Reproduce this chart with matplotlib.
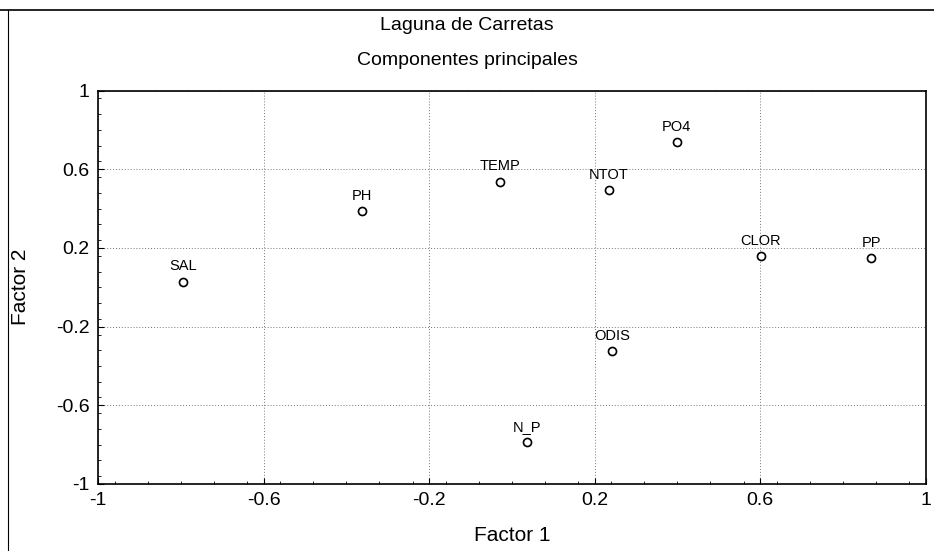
import matplotlib
matplotlib.use("Agg")
import matplotlib.pyplot as plt
import matplotlib.ticker as mticker
from matplotlib.lines import Line2D

plt.rcParams["font.family"] = ["Liberation Sans", "DejaVu Sans"]

variables = ["SAL", "PH", "TEMP", "NTOT", "PO4", "CLOR", "PP", "ODIS", "N_P"]
factor1 = [-0.794, -0.363, -0.028, 0.234, 0.398, 0.602, 0.869, 0.242, 0.036]
factor2 = [0.029, 0.388, 0.537, 0.495, 0.737, 0.160, 0.148, -0.325, -0.789]
ticks = [-1, -0.6, -0.2, 0.2, 0.6, 1]
tick_labels = ["-1", "-0.6", "-0.2", "0.2", "0.6", "1"]


def main() -> None:
    fig = plt.figure(figsize=(9.34, 5.51), dpi=100)
    ax = fig.add_axes([0.105, 0.1216, 0.886, 0.714])

    ax.plot(factor1, factor2, linestyle="none", marker="o", markersize=5.8,
            markerfacecolor="white", markeredgecolor="black", markeredgewidth=1.2)
    for name, x, y in zip(variables, factor1, factor2):
        ax.annotate(name, (x, y), xytext=(0, 11), textcoords="offset points",
                    ha="center", va="center", fontsize=10.5)

    ax.set_xlim(-1, 1)
    ax.set_ylim(-1, 1)
    ax.set_xticks(ticks)
    ax.set_xticklabels(tick_labels)
    ax.set_yticks(ticks)
    ax.set_yticklabels(tick_labels)
    ax.xaxis.set_minor_locator(mticker.MultipleLocator(0.08))
    ax.yaxis.set_minor_locator(mticker.MultipleLocator(0.08))
    ax.tick_params(axis="both", which="major", direction="in", length=4, labelsize=14, pad=6)
    ax.tick_params(axis="both", which="minor", direction="in", length=2)
    ax.grid(True, which="major", linestyle=(0, (1, 2)), color="#777777", linewidth=0.7)
    for spine in ax.spines.values():
        spine.set_linewidth(1.2)

    ax.set_xlabel("Factor 1", fontsize=15)
    ax.set_ylabel("Factor 2", fontsize=15)
    ax.xaxis.set_label_coords(0.5, -0.13)
    ax.xaxis.label.set_va("center")
    ax.yaxis.set_label_coords(-0.094, 0.5)
    ax.yaxis.label.set_va("center")

    fig.text(0.5, 0.953, "Laguna de Carretas", ha="center", va="center", fontsize=14)
    fig.text(0.5, 0.891, "Componentes principales", ha="center", va="center", fontsize=14)

    # scanned page frame on top and left
    fig.add_artist(Line2D([0.0, 1.0], [0.982, 0.982], transform=fig.transFigure,
                          color="black", linewidth=1.2))
    fig.add_artist(Line2D([0.009, 0.009], [0.0, 0.982], transform=fig.transFigure,
                          color="black", linewidth=0.8))

    fig.savefig("out.png", dpi=100)


if __name__ == "__main__":
    main()
